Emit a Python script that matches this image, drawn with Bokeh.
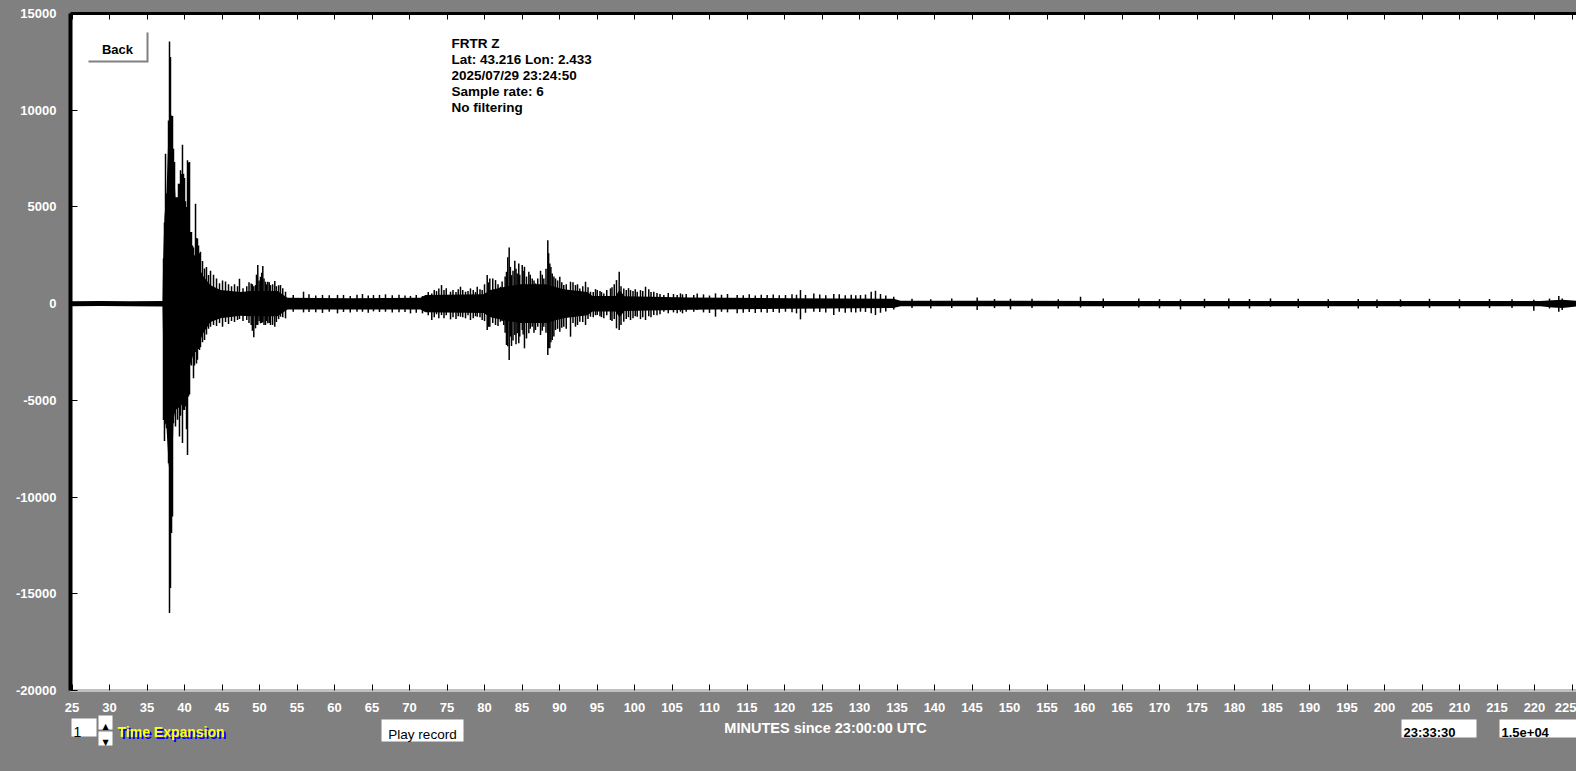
from bokeh.plotting import figure
from bokeh.layouts import column
from bokeh.models import (Range1d, LinearAxis, SingleIntervalTicker, Label,
                          BoxAnnotation, ColumnDataSource, PrintfTickFormatter)
from bokeh.embed import file_html
from bokeh.resources import INLINE

# ---------------- data (minutes since 23:00:00 UTC, counts) ----------------
info_lines = ["FRTR  Z", "Lat: 43.216 Lon: 2.433", "2025/07/29 23:24:50",
              "Sample rate: 6", "No filtering"]
x_title = "MINUTES since 23:00:00 UTC"
time_box = "23:33:30"
scale_box = "1.5e+04"
expansion = "1"

# dense core of the trace (envelope)
core_t = [24.80, 28.80, 32.80, 37.07, 37.16, 37.33, 37.60, 37.87, 38.27, 38.53,
          38.80, 39.47, 40.13, 40.67, 41.20, 41.87, 42.53, 43.47, 44.80, 47.47,
          48.80, 52.40, 53.73, 62.13, 71.47, 72.13, 79.87, 80.80, 83.07, 84.80,
          88.13, 90.53, 93.73, 94.40, 97.47, 98.00, 98.67, 107.47, 120.80, 134.53,
          135.47, 162.13, 188.80, 220.80, 222.40, 223.73, 225.60]
core_hi = [130, 140, 120, 140, 2300, 4500, 5700, 9000, 9400, 7500,
           5500, 5500, 5000, 3500, 2500, 1900, 1400, 950, 700, 600,
           650, 650, 300, 280, 300, 450, 480, 700, 900, 1000,
           1000, 750, 600, 400, 400, 700, 380, 320, 280, 250,
           150, 140, 140, 140, 180, 200, 150]
core_lo = [-130, -120, -140, -150, -2200, -6000, -6400, -8200, -10000, -6000,
           -5500, -5300, -5000, -3300, -2600, -2100, -1500, -950, -750, -620,
           -650, -650, -300, -300, -300, -450, -480, -700, -900, -1000,
           -1000, -750, -600, -400, -400, -700, -380, -320, -260, -230,
           -140, -130, -130, -130, -200, -220, -150]

# individual spikes (time, max, min)
spike_t = [37.20, 37.33, 37.47, 37.60, 37.73, 37.87, 38.00, 38.13, 38.27, 38.40,
           38.53, 38.67, 38.80, 38.93, 39.07, 39.20, 39.33, 39.47, 39.60, 39.73,
           39.87, 40.00, 40.13, 40.27, 40.40, 40.53, 40.67, 40.80, 40.93, 41.07,
           41.20, 41.33, 41.47, 41.60, 41.73, 41.87, 42.00, 42.13, 42.40, 42.67,
           42.93, 43.20, 43.47, 43.87, 44.27, 44.67, 45.07, 45.47, 45.87, 46.27,
           46.67, 47.07, 47.33, 47.80, 48.30, 48.60, 49.05, 49.60, 49.95, 50.30,
           50.60, 50.95, 51.30, 51.75, 52.25, 52.55, 53.10,
           48.89, 49.24, 49.47, 49.77, 50.13, 50.44, 50.80, 51.11, 51.47, 52.04,
           52.80, 53.47, 54.50, 55.87, 56.60, 57.50, 58.40, 59.30, 60.40, 61.20,
           62.10, 63.00, 63.73, 64.50, 65.20, 66.00, 66.80, 67.70, 68.60, 69.40,
           70.13, 70.90, 71.73, 72.50, 72.97, 73.30, 73.60, 73.91, 74.27, 74.60,
           74.90, 75.47, 75.80, 76.20, 76.50, 76.80, 77.10, 77.47, 77.80, 78.13,
           78.50, 78.80, 79.03, 79.40, 79.69, 80.00, 80.36, 80.53, 80.71, 81.10,
           81.47, 81.80, 82.13, 82.35, 82.57, 82.75, 82.93, 83.10, 83.29, 83.45,
           83.60, 83.80, 84.04, 84.20, 84.36, 84.57, 84.70, 85.03, 85.15, 85.33,
           85.60, 85.91, 86.10, 86.36, 86.60, 86.80, 87.10, 87.47, 87.70, 87.91,
           88.20, 88.44, 88.55, 88.71, 88.85, 89.03, 89.25, 89.47, 89.75, 90.04,
           90.30, 90.57, 90.90, 91.47, 91.80, 92.13, 92.40, 92.71, 93.10, 93.47,
           93.80, 94.13, 94.50, 94.80, 95.03, 95.40, 95.60, 95.91, 96.30, 96.80,
           97.00, 97.30, 97.60, 97.96, 98.20, 98.57, 98.90, 99.20, 99.47, 99.80,
           100.10, 100.36, 100.80, 101.10, 101.47, 101.90, 102.20, 102.57, 103.00, 103.40,
           103.91, 104.50, 105.20, 105.69, 106.13, 106.40, 106.89, 107.90, 108.36, 109.20,
           110.00, 110.80, 111.60, 112.40, 113.69, 114.50, 115.30, 116.10, 116.90, 117.69,
           118.50, 119.30, 120.13, 121.00, 121.60, 122.13, 122.80, 123.91, 124.70, 125.50,
           126.57, 127.30, 128.10, 128.90, 129.50, 130.13, 130.80, 131.56, 132.13, 132.80,
           133.50, 134.57, 137.00, 139.50, 142.30, 145.69, 148.00, 150.13, 153.00, 156.50,
           159.47, 162.50, 167.24, 170.00, 172.80, 176.00, 179.24, 182.00, 184.80, 188.50,
           192.50, 196.50, 199.00, 202.13, 206.00, 210.00, 214.00, 217.00, 219.91, 222.00,
           223.24, 223.69]
spike_hi = [2335, 4200, 7755, 5690, 5700, 9470, 13550, 12745, 9730, 9700,
            8010, 7320, 5200, 4500, 4100, 6200, 6200, 6900, 6700, 8220,
            6720, 6500, 5300, 5000, 7410, 7300, 7320, 3710, 3700, 3000,
            2900, 2500, 5170, 3400, 3370, 3000, 2600, 2680, 2200, 1820,
            1900, 1480, 1700, 1500, 1300, 1050, 1200, 1150, 1000, 900,
            1000, 900, 1290, 800, 900, 1100, 1000, 1500, 1200, 1600,
            1300, 1000, 1100, 1000, 900, 950, 800,
            1046, 900, 960, 1992, 1390, 1940, 1132, 1132, 960, 1166,
            960, 616, 450, 616, 480, 420, 450, 430, 450, 450,
            400, 460, 495, 420, 443, 450, 480, 430, 460, 420,
            400, 450, 392, 600, 530, 700, 650, 788, 960, 700,
            800, 616, 700, 600, 750, 874, 700, 616, 650, 788,
            700, 600, 874, 750, 702, 1000, 1476, 1100, 1304, 1300,
            1218, 1000, 874, 1150, 788, 1400, 1648, 2400, 2904, 1900,
            1476, 1700, 2216, 1800, 1562, 2078, 1500, 1992, 1700, 1906,
            1400, 1648, 1500, 1304, 1200, 1046, 1300, 1700, 1500, 1304,
            1800, 3283, 2600, 2078, 1900, 1562, 1400, 1304, 1200, 1390,
            1100, 960, 1000, 1132, 1100, 960, 1000, 788, 900, 1132,
            850, 616, 600, 750, 702, 650, 600, 530, 700, 788,
            850, 1000, 1218, 1648, 900, 788, 700, 800, 702, 650,
            750, 616, 700, 650, 874, 750, 600, 616, 550, 500,
            443, 550, 500, 443, 530, 480, 495, 450, 530, 480,
            420, 530, 460, 500, 444, 440, 480, 420, 460, 444,
            470, 430, 444, 480, 460, 702, 450, 530, 470, 430,
            495, 480, 440, 460, 430, 444, 470, 616, 667, 500,
            420, 357, 250, 230, 260, 320, 240, 250, 250, 230,
            357, 260, 271, 230, 220, 250, 271, 240, 271, 250,
            230, 240, 220, 220, 250, 230, 240, 230, 200, 260,
            392, 271]
spike_lo = [-6010, -7100, -6200, -6440, -4000, -8250, -15990, -14700, -11860, -11000,
            -6180, -5500, -6350, -5100, -6000, -5300, -6870, -5800, -5100, -7210,
            -5500, -5500, -5300, -6500, -7820, -4800, -4700, -2900, -3200, -2700,
            -3860, -3200, -2500, -3100, -2900, -2350, -2400, -2250, -2000, -1880,
            -1600, -1300, -1200, -1100, -1150, -1000, -1200, -950, -1050, -900,
            -950, -850, -800, -900, -850, -1000, -1400, -1100, -900, -1000,
            -1100, -900, -1000, -1100, -950, -800, -700,
            -1100, -1742, -1277, -1105, -1019, -950, -1105, -1019, -1105, -1191,
            -675, -761, -420, -450, -430, -450, -480, -420, -503, -430,
            -460, -420, -420, -470, -400, -430, -420, -460, -450, -430,
            -503, -470, -503, -600, -847, -700, -550, -761, -589, -750,
            -600, -813, -700, -800, -650, -675, -700, -761, -600, -847,
            -750, -650, -675, -700, -847, -900, -1363, -1200, -1191, -1000,
            -1105, -1150, -933, -900, -1105, -1500, -2138, -2200, -2912, -1700,
            -2189, -1900, -1621, -2100, -1535, -2052, -1700, -1363, -1600, -2310,
            -1800, -1535, -1300, -1191, -1500, -1363, -1200, -1621, -1400, -1191,
            -1500, -2654, -2300, -2310, -2000, -1880, -1700, -1363, -1300, -1449,
            -1250, -1191, -1300, -1707, -1000, -1191, -1100, -933, -950, -1105,
            -800, -675, -700, -600, -589, -650, -700, -761, -600, -847,
            -900, -800, -1277, -1363, -1100, -933, -800, -700, -847, -750,
            -650, -675, -800, -700, -847, -650, -700, -589, -600, -550,
            -417, -500, -450, -503, -417, -500, -417, -420, -330, -450,
            -480, -675, -420, -450, -503, -470, -430, -480, -440, -470,
            -430, -470, -417, -440, -500, -813, -470, -417, -430, -460,
            -589, -420, -470, -440, -460, -417, -430, -503, -589, -470,
            -400, -300, -220, -250, -230, -330, -230, -296, -220, -250,
            -200, -230, -200, -240, -296, -220, -245, -250, -160, -230,
            -220, -250, -230, -160, -220, -240, -230, -220, -365, -250,
            -417, -330]

# ---------------- layout helpers (page pixels -> data) ----------------
W, H = 1576, 771
H1 = 714
X_START = 24.8
FX0, FX1 = 70.0, 1576.0
X_END = X_START + (FX1 - FX0) / 7.5
Y_START, Y_END = -20000, 15000
FY0, FY1 = 13.0, 691.0


def px_x(px):
    return X_START + (px - FX0) * (X_END - X_START) / (FX1 - FX0)


def px_y(py):
    return Y_END - (py - FY0) * (Y_END - Y_START) / (FY1 - FY0)


FONT = "Liberation Sans"
GRAY = "#808080"

p = figure(width=W, height=H1,
           x_range=Range1d(X_START, X_END), y_range=Range1d(Y_START, Y_END),
           output_backend="svg", toolbar_location=None,
           x_axis_location=None, y_axis_location=None,
           min_border_left=int(FX0), min_border_right=0,
           min_border_top=int(FY0), min_border_bottom=H1 - int(FY1),
           background_fill_color="white", border_fill_color=GRAY,
           outline_line_color=None)
p.xgrid.visible = False
p.ygrid.visible = False
p.styles = {"background-color": GRAY}

# ---------------- axes ----------------
yax = LinearAxis(ticker=SingleIntervalTicker(interval=5000),
                 formatter=PrintfTickFormatter(format="%d"))
yax.axis_line_width = 4
yax.axis_line_color = "black"
yax.major_tick_in = 7
yax.major_tick_out = 0
yax.minor_tick_line_color = None
yax.major_label_standoff = 10
yax.major_label_text_color = "white"
yax.major_label_text_font = FONT
yax.major_label_text_font_style = "bold"
yax.major_label_text_font_size = "13px"
p.add_layout(yax, "left")

xb = LinearAxis(ticker=SingleIntervalTicker(interval=5),
                formatter=PrintfTickFormatter(format="%d"))
xb.axis_line_color = "#c0c0c0"
xb.axis_line_width = 3
xb.major_tick_in = 6
xb.major_tick_out = 0
xb.major_tick_line_color = "black"
xb.minor_tick_line_color = None
xb.major_label_standoff = 8
xb.major_label_text_color = "white"
xb.major_label_text_font = FONT
xb.major_label_text_font_style = "bold"
xb.major_label_text_font_size = "13px"
p.add_layout(xb, "below")

xt = LinearAxis(ticker=SingleIntervalTicker(interval=5))
xt.axis_line_color = "black"
xt.axis_line_width = 3
xt.major_tick_in = 6
xt.major_tick_out = 0
xt.minor_tick_line_color = None
xt.major_label_standoff = 0
xt.major_label_text_font_size = "1px"
xt.major_label_text_color = None
p.add_layout(xt, "above")

# ---------------- seismogram ----------------
core = ColumnDataSource(dict(t=core_t, hi=core_hi, lo=core_lo))
p.varea(x="t", y1="lo", y2="hi", source=core, fill_color="black")
sp = ColumnDataSource(dict(t=spike_t, hi=spike_hi, lo=spike_lo))
p.segment(x0="t", y0="lo", x1="t", y1="hi", source=sp, line_color="black", line_width=1.5)

# ---------------- station info ----------------
for i, line in enumerate(info_lines):
    p.add_layout(Label(x=px_x(451), y=px_y(42.7 + 16 * i), text=line,
                       text_baseline="alphabetic", text_align="left",
                       text_font=FONT, text_font_size="13.5px",
                       text_font_style="bold", text_color="black"))

# ---------------- "Back" button ----------------
p.add_layout(BoxAnnotation(left=px_x(88), right=px_x(148), top=px_y(32), bottom=px_y(62),
                           fill_color=GRAY, fill_alpha=1, line_color=None))
p.add_layout(BoxAnnotation(left=px_x(86), right=px_x(146), top=px_y(30), bottom=px_y(60),
                           fill_color="white", fill_alpha=1, line_color=None))
p.add_layout(Label(x=px_x(117), y=px_y(49.5), text="Back", text_align="center",
                   text_baseline="alphabetic", text_font=FONT, text_font_style="bold",
                   text_font_size="13px", text_color="black"))

# ---------------- control strip below the plot (page-pixel coordinates) ----------------
# the column layout aligns this strip's frame with the plot frame (x from FX0 to FX1)
c = figure(width=W, height=H - H1, x_range=Range1d(FX0, FX1), y_range=Range1d(H, H1),
           output_backend="svg", toolbar_location=None,
           x_axis_location=None, y_axis_location=None, min_border=0,
           min_border_left=int(FX0),
           background_fill_color=GRAY, border_fill_color=GRAY, outline_line_color=None)
c.xgrid.visible = False
c.ygrid.visible = False
c.styles = {"background-color": GRAY}


def box(l, t, r, b, color="white"):
    c.add_layout(BoxAnnotation(left=l, right=r, top=t, bottom=b,
                               fill_color=color, fill_alpha=1, line_color=None))


def text(x, y, s, color="black", size="13px", style="normal", align="left", font=FONT):
    c.add_layout(Label(x=x, y=y, text=s, text_align=align,
                       text_baseline="alphabetic", text_font=font,
                       text_font_size=size, text_font_style=style, text_color=color))


text(825, 727.7, x_title, color="white", size="14.5px", style="bold", align="center")

box(71, 718, 96, 736)
text(73, 731.5, expansion, size="14px")
box(98, 715, 112, 729)
box(98, 731, 112, 745)
text(105, 726, "\u25b2", size="8px", align="center", font="DejaVu Sans")
text(105, 742, "\u25bc", size="8px", align="center", font="DejaVu Sans")
text(119, 733.5, "Time Expansion", color="#0000ff", style="bold", size="14px")
text(117, 731.5, "Time Expansion", color="#ffff00", style="bold", size="14px")

box(381, 719, 463, 741)
text(422, 734, "Play record", align="center", size="13.5px")

box(1401, 719, 1476, 737)
text(1403, 732, time_box, size="13px", style="bold")
box(1499, 719, 1576, 737)
text(1501, 732, scale_box, size="13px", style="bold")

layout = column(p, c, spacing=0)
layout.styles = {"background-color": GRAY}
html = file_html(layout, INLINE)
html = html.replace("<body>", '<body style="background-color:#808080;">', 1)
open("out.html", "w").write(html)
